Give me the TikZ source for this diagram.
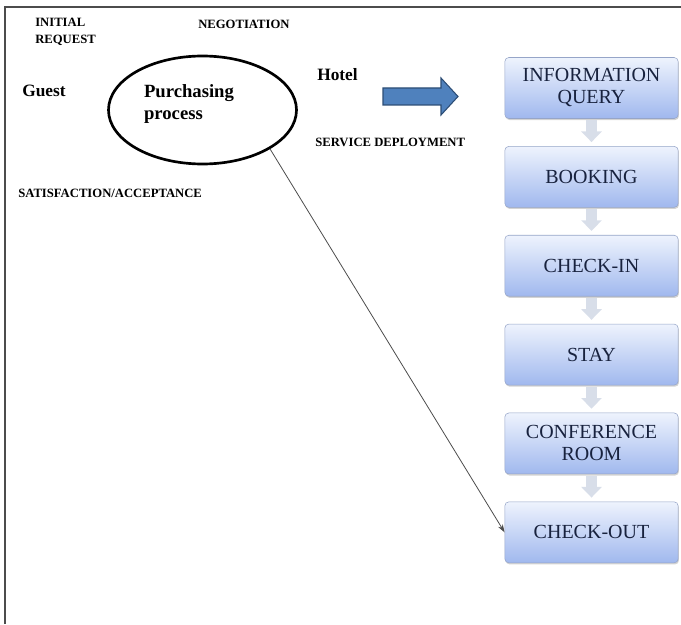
\documentclass[tikz,border=0pt]{standalone}
\usepackage{fontspec}
\setmainfont{Liberation Serif}
\usetikzlibrary{arrows.meta,positioning,shapes.geometric,shadows}
\definecolor{boxtop}{RGB}{238,243,253}
\definecolor{boxbot}{RGB}{160,184,238}
\definecolor{boxline}{RGB}{150,165,200}
\definecolor{boxtext}{RGB}{24,34,62}
\definecolor{paleflow}{RGB}{216,222,233}
\definecolor{bigarrow}{RGB}{79,129,189}
\definecolor{bigarrowline}{RGB}{44,77,117}
\tikzset{
 stage/.style={draw=boxline,rounded corners=3pt,align=center,minimum height=45.75pt,
             minimum width=130pt,top color=boxtop,bottom color=boxbot,text=boxtext,
             font=\rmfamily\fontsize{15}{16.5}\selectfont,
             drop shadow={shadow xshift=0.6pt,shadow yshift=-1.2pt,opacity=0.35}},
 phase/.style={font=\fontsize{9.5}{12.75}\selectfont\bfseries,align=left,inner sep=0pt},
 actor/.style={font=\fontsize{13}{15}\selectfont\bfseries,inner sep=0pt},
 flow/.style={draw=paleflow,line width=8pt,-{Triangle[width=15pt,length=8pt]},
             shorten <=1pt,shorten >=3pt},
 link/.style={-{Stealth[length=6pt,width=4pt]},draw=black!70,line width=0.6pt},
 frame/.style={draw=black!70,line width=1.1pt}
}
\begin{document}
\begin{tikzpicture}[x=0.75pt,y=-0.75pt,node distance=20.5pt]
\useasboundingbox (0,0) rectangle (681,624);
\draw[frame] (5,624) -- (5,7) -- (681,7);
% guest side
\node[phase,anchor=west] (initial) at (35,32) {INITIAL\\REQUEST};
\node[phase,anchor=west] (nego) at (198,24) {NEGOTIATION};
\node[actor,anchor=west] (guest) at (22,91) {Guest};
\node[ellipse,draw,line width=2pt,minimum width=141pt,minimum height=81pt] (proc) at (202.5,110) {};
\node[actor,font=\fontsize{14}{16}\selectfont\bfseries,align=left] (proctxt) at (189,104) {Purchasing\\process};
\node[actor,anchor=west] (hotel) at (317,75) {Hotel};
\node[phase,anchor=west] (deploy) at (315,142) {SERVICE DEPLOYMENT};
\node[phase,anchor=west] (satis) at (18,193) {SATISFACTION/ACCEPTANCE};
\filldraw[fill=bigarrow,draw=bigarrowline,line width=0.8pt]
  (383,88) -- (441,88) -- (441,78) -- (458,96.5) -- (441,115) -- (441,105) -- (383,105) -- cycle;
% hotel stages
\node[stage] (info) at (591.5,88) {INFORMATION\\QUERY};
\node[stage,below=of info] (book) {BOOKING};
\node[stage,below=of book] (chkin) {CHECK-IN};
\node[stage,below=of chkin] (stay) {STAY};
\node[stage,below=of stay] (conf) {CONFERENCE\\ROOM};
\node[stage,below=of conf] (chkout) {CHECK-OUT};
\foreach \a/\b in {info/book,book/chkin,chkin/stay,stay/conf,conf/chkout}
  \draw[flow] (\a) -- (\b);
\draw[link] (proc.-30) -- (chkout.west);
\end{tikzpicture}
\end{document}
